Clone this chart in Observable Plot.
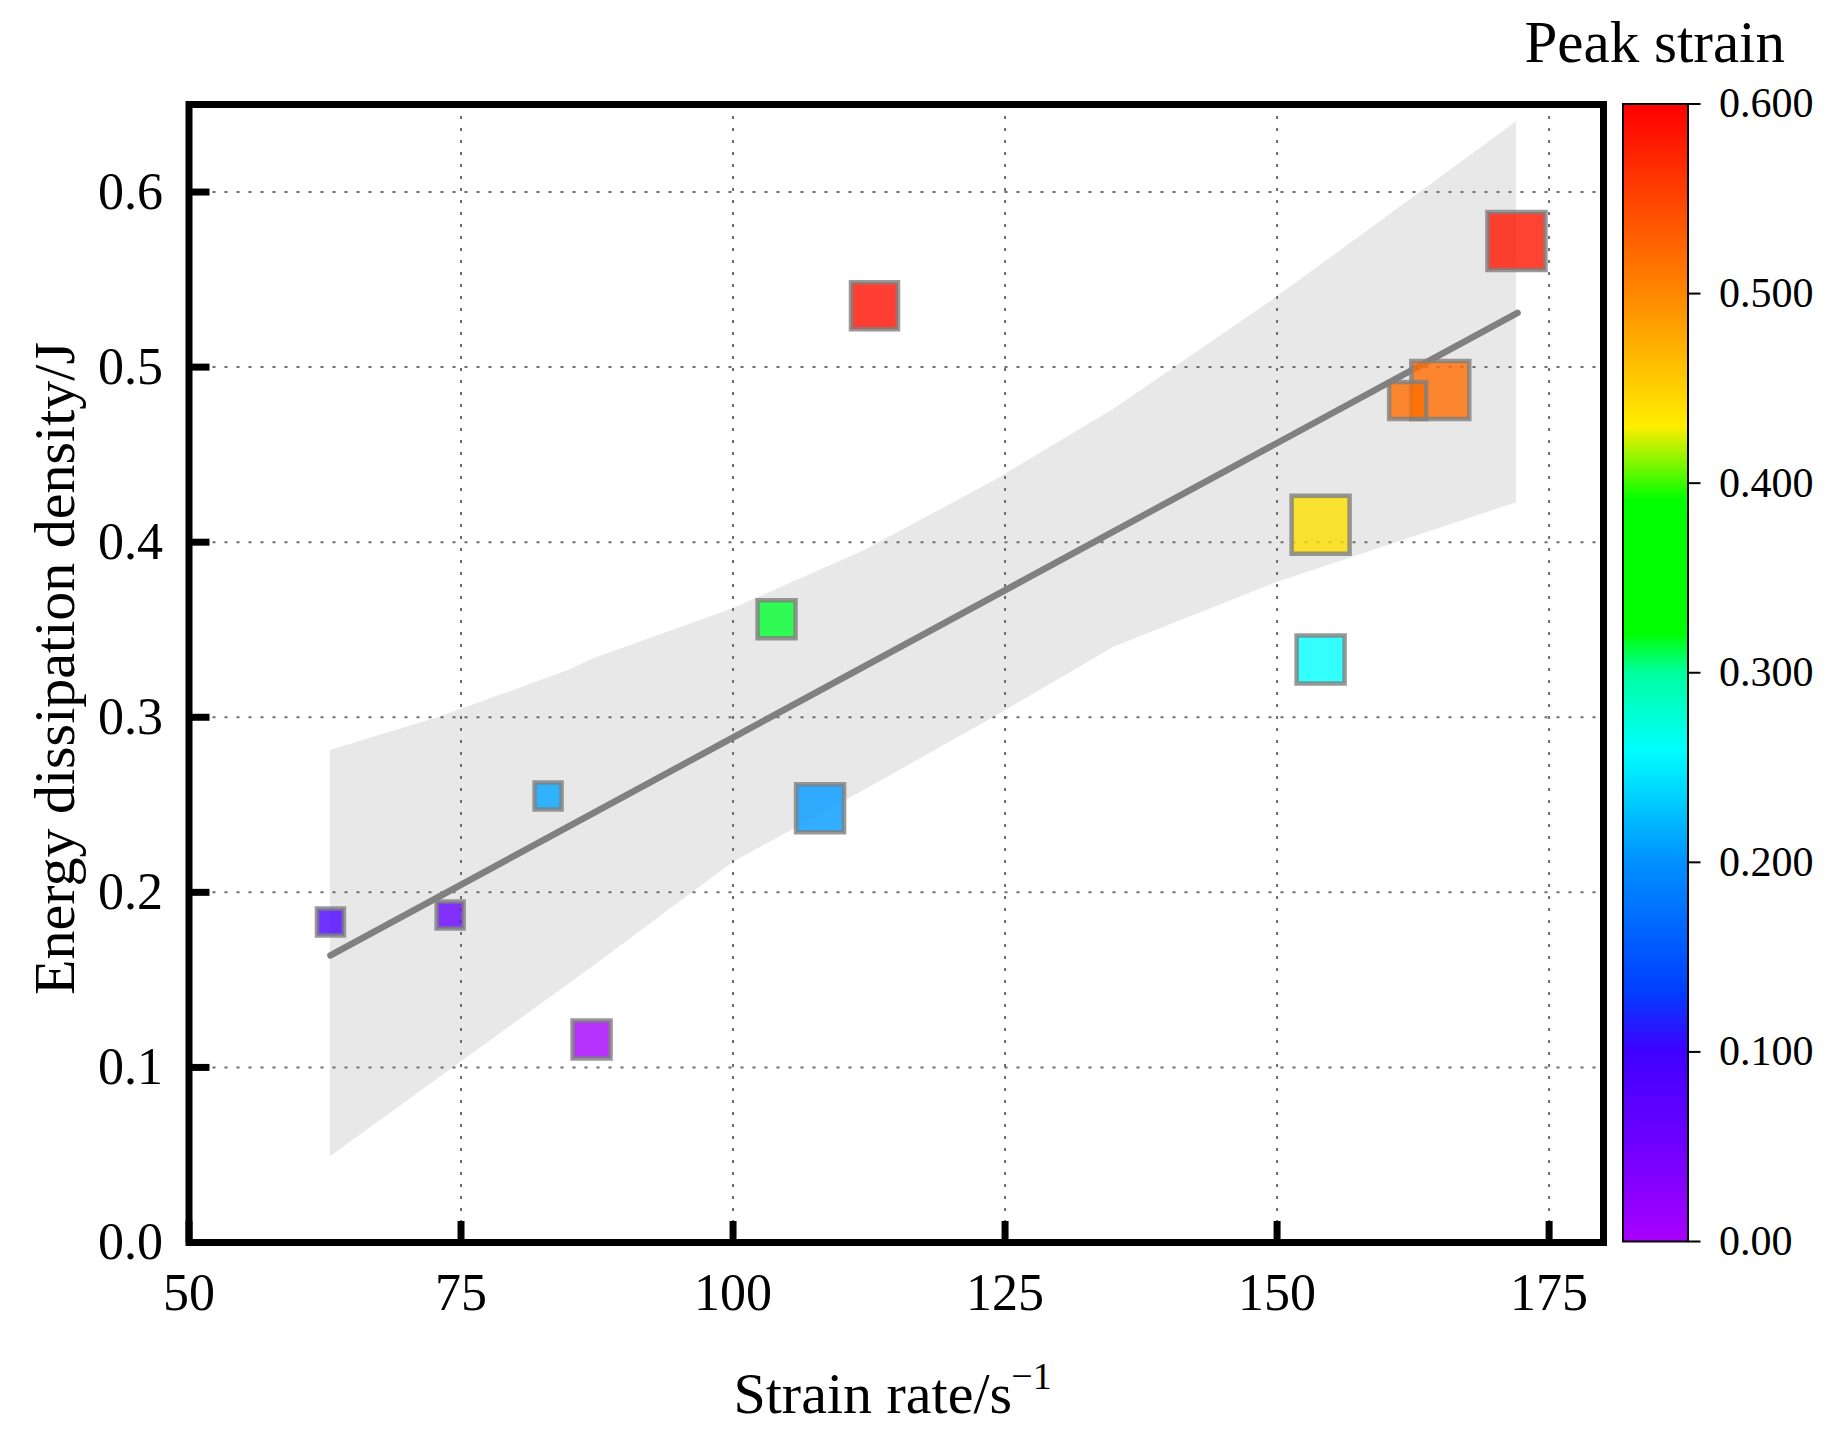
<!DOCTYPE html>
<html><head><meta charset="utf-8">
<script src="https://cdn.jsdelivr.net/npm/d3@7"></script>
<script src="https://cdn.jsdelivr.net/npm/@observablehq/plot@0.6"></script>
<style>
body{margin:0;background:#fff;}
#wrap{position:relative;width:1836px;height:1438px;}
#wrap svg{position:absolute;top:0;}
</style></head><body><div id="wrap"></div>
<script>
// ---- data ----
const strainRate    = [63.0, 74.0, 83.0, 87.0, 104.0, 108.0, 113.0, 154.0, 154.0, 162.0, 165.0, 172.0];
const energyDensity = [0.183, 0.187, 0.255, 0.116, 0.356, 0.248, 0.535, 0.410, 0.333, 0.481, 0.487, 0.572];
const peakStrain    = [0.090, 0.060, 0.210, 0.000, 0.315, 0.205, 0.590, 0.440, 0.259, 0.520, 0.520, 0.585];
const markerSize    = [27, 27, 27, 38, 38, 48, 47, 58, 48, 37, 58, 58];

const fitX = [63.0, 172.1];
const fitY = [0.164, 0.531];

const bandX     = [63, 73, 85, 87, 100, 112, 124, 135, 150, 172];
const bandUpper = [0.281, 0.300, 0.327, 0.333, 0.362, 0.395, 0.435, 0.476, 0.540, 0.640];
const bandLower = [0.049, 0.094, 0.148, 0.157, 0.217, 0.258, 0.300, 0.340, 0.377, 0.4225];

const xTicks = [50, 75, 100, 125, 150, 175];
const yTicks = [0, 0.1, 0.2, 0.3, 0.4, 0.5, 0.6];
const cbTicks = [0, 0.1, 0.2, 0.3, 0.4, 0.5, 0.6];
const cbLabels = ["0.00", "0.100", "0.200", "0.300", "0.400", "0.500", "0.600"];

const colorStops  = [0, 0.05, 0.10, 0.133, 0.20, 0.259, 0.30, 0.321, 0.391, 0.43, 0.50, 0.55, 0.60];
const colorColors = ["#a800ff", "#7000ff", "#4000ff", "#0040ff", "#0090ff", "#00ffff", "#00ffa0", "#00ff00", "#00ff00", "#ffee00", "#ff8800", "#ff4400", "#ff0000"];

const xLabel = "Strain rate/s";
const xLabelSup = "\u22121";
const yLabel = "Energy dissipation density/J";
const cbTitle = "Peak strain";

// ---- build tables ----
const points = strainRate.map((x, i) => ({x, y: energyDensity[i], s: peakStrain[i], side: markerSize[i]}));
const band = bandX.map((x, i) => ({x, lo: bandLower[i], hi: bandUpper[i]}));
const fit = fitX.map((x, i) => ({x, y: fitY[i]}));

const font = "'Liberation Serif', 'Times New Roman', serif";
const colorScale = {type: "linear", domain: colorStops, range: colorColors};
const gridStyle = {stroke: "#6e6e6e", strokeOpacity: 1, strokeWidth: 2, strokeDasharray: "3,9"};

const main = Plot.plot({
  width: 1836, height: 1438,
  marginLeft: 188.5, marginRight: 233, marginTop: 104, marginBottom: 196,
  style: {fontFamily: font, background: "transparent", overflow: "visible", color: "black"},
  x: {domain: [50, 180]},
  y: {domain: [0, 0.65]},
  color: colorScale,
  r: {type: "identity"},
  marks: [
    Plot.areaY(band, {x: "x", y1: "lo", y2: "hi", fill: "#e8e8e8"}),
    Plot.gridX(xTicks, gridStyle),
    Plot.gridY(yTicks, gridStyle),
    Plot.line(fit, {x: "x", y: "y", stroke: "#808080", strokeWidth: 6.5, strokeLinecap: "round"}),
    Plot.dot(points, {x: "x", y: "y", symbol: "square", r: d => d.side / Math.sqrt(Math.PI),
      fill: "s", fillOpacity: 0.8, stroke: "#808080", strokeOpacity: 0.8, strokeWidth: 4.5}),
    Plot.axisX(xTicks, {tickSize: -21, tickFormat: () => "", strokeWidth: 7, label: null}),
    Plot.axisX(xTicks, {tickSize: 0, tickPadding: 31, fontSize: 52, label: null, tickFormat: d => String(d)}),
    Plot.axisY(yTicks, {tickSize: -21, tickFormat: () => "", strokeWidth: 7, label: null}),
    Plot.axisY(yTicks, {tickSize: 0, tickPadding: 26, fontSize: 52, label: null, tickFormat: d => d.toFixed(1)}),
    Plot.frame({stroke: "black", strokeWidth: 7}),
    Plot.text([yLabel], {frameAnchor: "left", textAnchor: "middle", rotate: -90, dx: -115, dy: -5, lineAnchor: "bottom", fontSize: 58}),
    Plot.text([xLabel], {frameAnchor: "bottom", textAnchor: "start", lineAnchor: "bottom", dx: -162.75, dy: 170, fontSize: 58}),
    Plot.text([xLabelSup], {frameAnchor: "bottom", textAnchor: "start", lineAnchor: "bottom", dx: 115, dy: 146, fontSize: 38})
  ]
});
main.style.left = "0px";

const cb = Plot.plot({
  width: 336, height: 1438,
  marginLeft: 122.5, marginRight: 148.5, marginTop: 103.5, marginBottom: 197,
  style: {fontFamily: font, background: "transparent", overflow: "visible", color: "black"},
  x: {domain: [0, 1], axis: null},
  y: {domain: [0, 0.6], axis: null},
  color: colorScale,
  marks: [
    Plot.raster({fill: (x, y) => y, x1: 0, x2: 1, y1: 0, y2: 0.6, width: 2, height: 1200}),
    Plot.frame({stroke: "black", strokeWidth: 2}),
    Plot.axisY(cbTicks, {anchor: "right", tickSize: 12, tickPadding: 19, strokeWidth: 2, fontSize: 42, label: null,
      tickFormat: d => cbLabels[cbTicks.indexOf(d)]}),
    Plot.text([cbTitle], {frameAnchor: "top-left", textAnchor: "start", lineAnchor: "bottom", dx: -98.5, dy: -42.5, fontSize: 59})
  ]
});
cb.style.left = "1500px";

const wrap = document.getElementById("wrap");
wrap.appendChild(main);
wrap.appendChild(cb);
</script>
</body></html>
